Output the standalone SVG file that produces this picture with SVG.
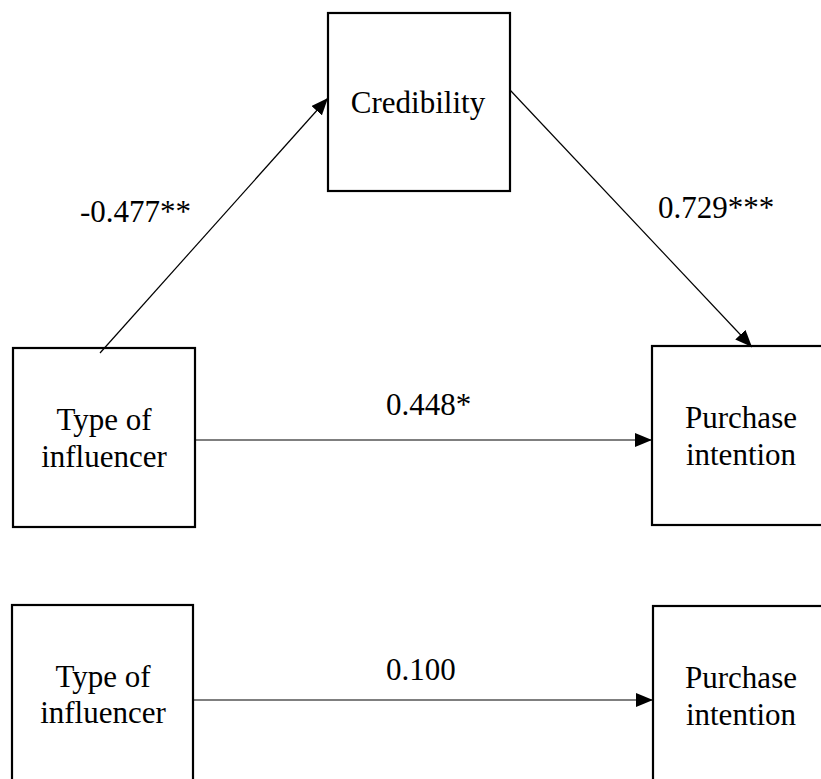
<svg xmlns="http://www.w3.org/2000/svg" width="821" height="779" viewBox="0 0 821 779">
<style>
.box{fill:none;stroke:#000;stroke-width:2.2}
.t{font-family:"Liberation Serif","Times New Roman",serif;font-size:31px;fill:#000}
.c{text-anchor:middle}
.edge{stroke:#000;stroke-width:1.2;fill:none;marker-end:url(#ah)}
</style>
<defs>
<marker id="ah" markerUnits="userSpaceOnUse" markerWidth="18" markerHeight="14" refX="17" refY="7" orient="auto">
<path d="M0,0 L17,7 L0,14 z" fill="#000"/>
</marker>
</defs>
<rect x="0" y="0" width="821" height="779" fill="#fff"/>
<g id="connectors">
<line class="edge" x1="100" y1="353" x2="328" y2="98"/>
<line class="edge" x1="510" y1="90" x2="752" y2="347"/>
<line class="edge" x1="195" y1="440" x2="652" y2="440"/>
<line class="edge" x1="193" y1="700" x2="653" y2="700"/>
<text class="t" x="80" y="222">-0.477**</text>
<text class="t" x="658" y="218">0.729***</text>
<text class="t" x="386" y="415">0.448*</text>
<text class="t" x="386" y="680">0.100</text>
</g>
<g id="credibility">
<rect class="box" x="328" y="13" width="182" height="178"/>
<text class="t c" x="418" y="113">Credibility</text>
</g>
<g id="type1">
<rect class="box" x="13" y="348" width="182" height="179"/>
<text class="t c" x="104" y="430">Type of</text>
<text class="t c" x="104" y="467">influencer</text>
</g>
<g id="purchase1">
<rect class="box" x="652" y="346" width="185" height="179"/>
<text class="t c" x="741" y="428">Purchase</text>
<text class="t c" x="741" y="465">intention</text>
</g>
<g id="type2">
<rect class="box" x="12" y="605" width="181" height="190"/>
<text class="t c" x="103" y="687">Type of</text>
<text class="t c" x="103" y="723">influencer</text>
</g>
<g id="purchase2">
<rect class="box" x="653" y="606" width="185" height="190"/>
<text class="t c" x="741" y="688">Purchase</text>
<text class="t c" x="741" y="725">intention</text>
</g>
</svg>
